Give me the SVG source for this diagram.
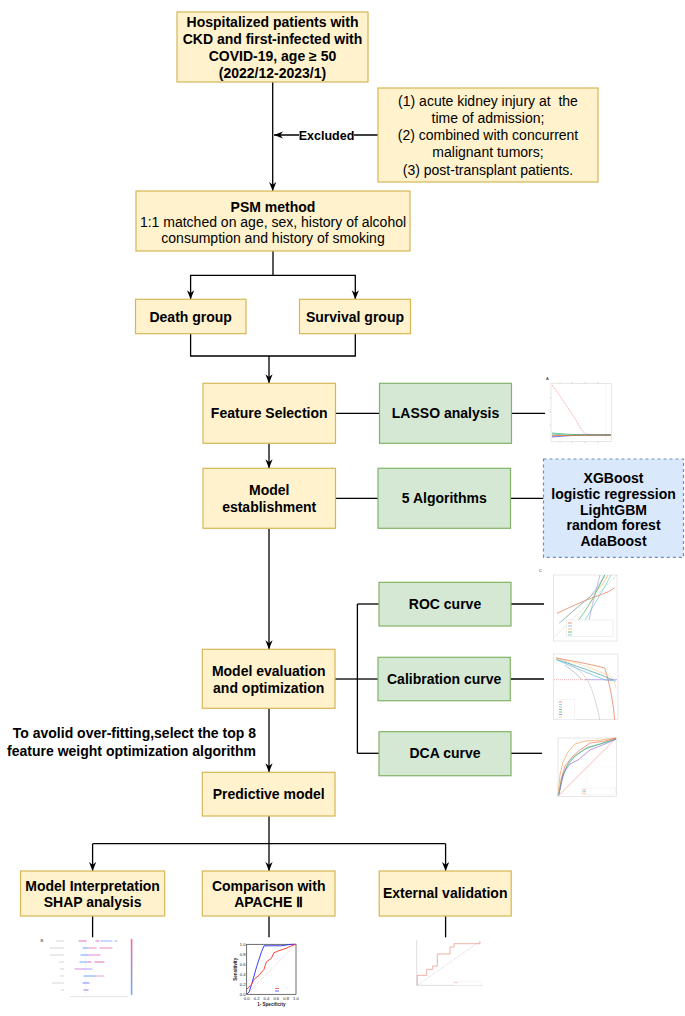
<svg xmlns="http://www.w3.org/2000/svg" width="685" height="1016" viewBox="0 0 685 1016">
<defs>
<style>
.y{fill:#FFF2CC;stroke:#D6B656;stroke-width:1.2}
.g{fill:#D5E8D4;stroke:#82B366;stroke-width:1.2}
.bl{fill:#DAE8FC;stroke:#6C8EBF;stroke-width:1.2;stroke-dasharray:3 3}
.t{font-family:"Liberation Sans",Arial,sans-serif;font-size:14px;font-weight:bold;fill:#000;text-anchor:middle}
.r{font-family:"Liberation Sans",Arial,sans-serif;font-size:14px;fill:#000;text-anchor:middle}
.c{fill:none;stroke:#000;stroke-width:1.3}
.fr{fill:#fff;stroke:#cfcfcf;stroke-width:0.5}
.tn{fill:none;stroke-width:0.7}
.tiny{font-family:"Liberation Sans",Arial,sans-serif;font-size:4px;fill:#222}
</style>
<marker id="ar" viewBox="0 0 10 10" refX="10" refY="5" markerWidth="9" markerHeight="9" markerUnits="userSpaceOnUse" orient="auto">
<path d="M0,1 L10,5 L0,9 L3,5 z" fill="#000"/>
</marker>
<linearGradient id="shapbar" x1="0" y1="0" x2="0" y2="1">
<stop offset="0" stop-color="#ff5fa0"/>
<stop offset="1" stop-color="#5fb4ff"/>
</linearGradient>
</defs>

<g id="connectors">
<path class="c" d="M272.7,82 V191" marker-end="url(#ar)"/>
<path class="c" d="M378,135 H274" marker-end="url(#ar)"/>
<path class="c" d="M273,251 V275.3 H190.6 V299.3" marker-end="url(#ar)"/>
<path class="c" d="M273,275.3 H355.3 V299.3" marker-end="url(#ar)"/>
<path class="c" d="M190.6,333.7 V356 H355.3 V333.7"/>
<path class="c" d="M269,356 V383.3" marker-end="url(#ar)"/>
<path class="c" d="M269,443.3 V468.3" marker-end="url(#ar)"/>
<path class="c" d="M335.5,413.3 H379.5"/>
<path class="c" d="M511.5,413.3 H545"/>
<path class="c" d="M335.5,498.3 H378"/>
<path class="c" d="M510.5,498.3 H543.5"/>
<path class="c" d="M269,528.3 V649.3" marker-end="url(#ar)"/>
<path class="c" d="M335,679 H357.4"/>
<path class="c" d="M357.4,604 V753.3"/>
<path class="c" d="M357.4,604 H379"/>
<path class="c" d="M357.4,679 H378"/>
<path class="c" d="M357.4,753.3 H379"/>
<path class="c" d="M511,604 H544"/>
<path class="c" d="M510.3,679 H544"/>
<path class="c" d="M511,753.3 H542"/>
<path class="c" d="M269,708.3 V772.3" marker-end="url(#ar)"/>
<path class="c" d="M269,816 V871" marker-end="url(#ar)"/>
<path class="c" d="M92.6,843.7 H445.6"/>
<path class="c" d="M92.6,843.7 V871" marker-end="url(#ar)"/>
<path class="c" d="M445.6,843.7 V871" marker-end="url(#ar)"/>
<path class="c" d="M92.6,916 V937.3"/>
<path class="c" d="M269,916 V937.3"/>
<path class="c" d="M445.6,916 V937.3"/>
<rect x="299" y="127" width="55" height="16" fill="#fff"/>
<text x="326.5" y="139.5" class="t" style="font-size:12.5px">Excluded</text>
</g>

<g id="n-patients">
<rect class="y" x="177" y="12" width="191" height="70"/>
<text class="t" x="272.5" y="27">Hospitalized patients with</text>
<text class="t" x="272.5" y="44">CKD and first-infected with</text>
<text class="t" x="272.5" y="61">COVID-19, age ≥ 50</text>
<text class="t" x="272.5" y="78">(2022/12-2023/1)</text>
</g>

<g id="n-exclusion">
<rect class="y" x="378" y="88" width="220" height="94"/>
<text class="r" x="488" y="105.8" xml:space="preserve">(1) acute kidney injury at  the</text>
<text class="r" x="488" y="123">time of admission;</text>
<text class="r" x="488" y="140.2">(2) combined with concurrent</text>
<text class="r" x="488" y="157.4">malignant tumors;</text>
<text class="r" x="488" y="174.6">(3) post-transplant patients.</text>
</g>

<g id="n-psm">
<rect class="y" x="136" y="191" width="274" height="60"/>
<text class="t" x="273" y="211.7">PSM method</text>
<text class="r" x="273" y="226.7">1:1 matched on age, sex, history of alcohol</text>
<text class="r" x="273" y="243.3">consumption and history of smoking</text>
</g>

<g id="n-death">
<rect class="y" x="135.5" y="299.3" width="110.5" height="34.4"/>
<text class="t" x="190.7" y="321.5">Death group</text>
</g>

<g id="n-survival">
<rect class="y" x="299.5" y="299.3" width="111" height="34.4"/>
<text class="t" x="355" y="321.5">Survival group</text>
</g>

<g id="n-feature">
<rect class="y" x="203" y="383.3" width="132.5" height="60"/>
<text class="t" x="269.2" y="418">Feature Selection</text>
</g>

<g id="n-lasso">
<rect class="g" x="379.5" y="383.3" width="132" height="60"/>
<text class="t" x="445.5" y="418">LASSO analysis</text>
</g>

<g id="n-lasso-plot">
<rect class="fr" x="551" y="383.3" width="60.3" height="58.4"/>
<line x1="606" y1="384" x2="606" y2="441" stroke="#e6e6e6" stroke-width="0.5"/>
<g stroke="#aaa" stroke-width="0.4">
<line x1="560" y1="383.3" x2="560" y2="381.8"/><line x1="572" y1="383.3" x2="572" y2="381.8"/><line x1="585" y1="383.3" x2="585" y2="381.8"/><line x1="598" y1="383.3" x2="598" y2="381.8"/>
<line x1="560" y1="441.7" x2="560" y2="443.2"/><line x1="572" y1="441.7" x2="572" y2="443.2"/><line x1="585" y1="441.7" x2="585" y2="443.2"/><line x1="598" y1="441.7" x2="598" y2="443.2"/>
<line x1="551" y1="398" x2="549.5" y2="398"/><line x1="551" y1="412" x2="549.5" y2="412"/><line x1="551" y1="425" x2="549.5" y2="425"/>
</g>
<text class="tiny" x="546" y="380">A</text>
<path class="tn" stroke="#f08080" stroke-dasharray="1.2 0.8" d="M552,385 L556,390 L566,405 L576,420 L581,429 Q584,434 590,434.5 L611,434.8"/>
<path class="tn" stroke="#3cb371" d="M552,433 Q565,434 575,434.6 L611,434.9"/>
<path class="tn" stroke="#4169e1" d="M552,437 Q565,436 575,435.3 L611,435.1"/>
<path class="tn" stroke="#8a2be2" d="M552,436 Q566,435.6 580,435.2 L611,435"/>
<path class="tn" stroke="#20b2aa" d="M552,434 Q565,435.5 578,435 L611,435"/>
<path class="tn" stroke="#ff8c00" d="M552,435.5 L611,435"/>
</g>

<g id="n-model-est">
<rect class="y" x="203" y="468.3" width="132.5" height="60"/>
<text class="t" x="269.2" y="495">Model</text>
<text class="t" x="269.2" y="512.3">establishment</text>
</g>

<g id="n-algorithms">
<rect class="g" x="378" y="468.3" width="132.5" height="60"/>
<text class="t" x="444.3" y="503.3">5 Algorithms</text>
</g>

<g id="n-algo-list">
<rect class="bl" x="543.5" y="459" width="140" height="98.3"/>
<text class="t" x="613.5" y="483">XGBoost</text>
<text class="t" x="613.5" y="498.8">logistic regression</text>
<text class="t" x="613.5" y="514.6">LightGBM</text>
<text class="t" x="613.5" y="530.4">random forest</text>
<text class="t" x="613.5" y="546.2">AdaBoost</text>
</g>

<g id="n-model-eval">
<rect class="y" x="202.3" y="649.3" width="132.7" height="59"/>
<text class="t" x="268.7" y="676">Model evaluation</text>
<text class="t" x="268.7" y="692.7">and optimization</text>
</g>

<g id="n-roc">
<rect class="g" x="379" y="582.3" width="132" height="43.7"/>
<text class="t" x="445" y="609">ROC curve</text>
</g>

<g id="n-roc-plot">
<rect class="fr" x="553.7" y="575" width="63.3" height="66"/>
<text class="tiny" x="539" y="572">C</text>
<path class="tn" stroke="#bbb" stroke-dasharray="1 1" d="M554.7,636.7 L617,575"/>
<path class="tn" stroke="#e8734a" d="M557,613.3 Q585,600 600,595 Q610,592 614.7,587.7"/>
<path class="tn" stroke="#f5b060" d="M561.3,621.7 Q585,600 596,592 Q604,584 608,575"/>
<path class="tn" stroke="#6fb6e0" d="M559,623.3 Q580,605 590,597 Q600,585 604.7,575"/>
<path class="tn" stroke="#4caf50" d="M571.3,630 Q585,612 592,600 Q600,585 604.7,575"/>
<path class="tn" stroke="#5fcfc0" d="M578,632 Q590,612 598,598 Q606,585 611,575"/>
<path class="tn" stroke="#b39ddb" d="M588,625 Q592,605 596,590 L600,575"/>
<rect x="566.3" y="620" width="46.7" height="16.7" fill="#fff" stroke="#ddd" stroke-width="0.4"/>
<g stroke-width="0.8">
<line x1="568" y1="623" x2="572" y2="623" stroke="#e8734a"/>
<line x1="568" y1="626" x2="572" y2="626" stroke="#6fb6e0"/>
<line x1="568" y1="629" x2="572" y2="629" stroke="#f5b060"/>
<line x1="568" y1="632" x2="572" y2="632" stroke="#4caf50"/>
<line x1="568" y1="635" x2="572" y2="635" stroke="#5fcfc0"/>
</g>
</g>

<g id="n-calibration">
<rect class="g" x="378" y="657.3" width="132.3" height="43.4"/>
<text class="t" x="444.2" y="684">Calibration curve</text>
</g>

<g id="n-calib-plot">
<rect class="fr" x="553.7" y="654" width="64.3" height="65.7"/>
<line x1="554" y1="679.7" x2="585" y2="679.7" stroke="#f08080" stroke-width="0.6" stroke-dasharray="1 1"/>
<line x1="585" y1="679.7" x2="617" y2="679.7" stroke="#9370db" stroke-width="0.6"/>
<path class="tn" stroke="#999" stroke-dasharray="1 0.8" d="M556.3,658 Q580,665 590,685 Q596,700 599.7,719.7"/>
<path class="tn" stroke="#e8734a" d="M556.3,658 Q590,664 604.7,668 Q612,690 614.7,719.7"/>
<path class="tn" stroke="#f5c060" stroke-dasharray="1.5 0.8" d="M556.3,658 Q590,666 613,678 L616,688"/>
<path class="tn" stroke="#3aa0a0" d="M556.3,659.5 Q590,670 613,680"/>
<path class="tn" stroke="#6fb6e0" d="M557,660 Q585,672 605,680 L616,681"/>
<path class="tn" stroke="#aaa" d="M565,665 Q575,672 582,679.7"/>
<rect x="558" y="699.7" width="16.7" height="20" fill="#fff" stroke="#ddd" stroke-width="0.3"/>
<g stroke-width="0.7">
<line x1="559" y1="702" x2="562" y2="702" stroke="#e8734a"/>
<line x1="559" y1="704.5" x2="562" y2="704.5" stroke="#6fb6e0"/>
<line x1="559" y1="707" x2="562" y2="707" stroke="#999"/>
<line x1="559" y1="709.5" x2="562" y2="709.5" stroke="#3aa0a0"/>
<line x1="559" y1="712" x2="562" y2="712" stroke="#4caf50"/>
<line x1="559" y1="714.5" x2="562" y2="714.5" stroke="#9370db"/>
<line x1="559" y1="717" x2="562" y2="717" stroke="#f5c060"/>
</g>
</g>

<g id="n-dca">
<rect class="g" x="379" y="731.7" width="132" height="44"/>
<text class="t" x="445" y="758.3">DCA curve</text>
</g>

<g id="n-dca-plot">
<rect class="fr" x="558" y="738" width="58.3" height="58.3"/>
<line x1="558" y1="767" x2="616" y2="767" stroke="#eee" stroke-width="0.4"/>
<line x1="587" y1="738" x2="587" y2="796" stroke="#eee" stroke-width="0.4"/>
<path class="tn" stroke="#f4a0a0" d="M558,796.3 L616.3,738"/>
<path class="tn" stroke="#f5a050" d="M558,796 L560,775 L563,762 L568,752 L575,744 L585,741 L600,740 L616,738"/>
<path class="tn" stroke="#e8734a" d="M559,794 L561,780 L565,766 L572,757 L580,750 L590,743 L605,741 L616,738"/>
<path class="tn" stroke="#6fb6e0" d="M558,796 L561,784 L565,770 L570,760 L578,754 L588,747 L600,744 L616,739"/>
<path class="tn" stroke="#4caf50" d="M559,795 L562,778 L567,766 L575,756 L585,749 L597,745 L616,739"/>
<path class="tn" stroke="#9370db" d="M560,790 L563,774 L570,764 L578,760 L590,750 L605,744 L616,739"/>
<rect x="581.3" y="788" width="34" height="6.7" fill="#fff" stroke="#ddd" stroke-width="0.3"/>
<g stroke-width="0.6">
<line x1="582.5" y1="789.8" x2="586" y2="789.8" stroke="#e8734a"/>
<line x1="582.5" y1="791.5" x2="586" y2="791.5" stroke="#6fb6e0"/>
<line x1="582.5" y1="793.2" x2="586" y2="793.2" stroke="#f5a050"/>
</g>
</g>

<g id="n-predictive">
<rect class="y" x="202.3" y="772.3" width="132.7" height="43.7"/>
<text class="t" x="268.7" y="799.3">Predictive model</text>
</g>

<text class="t" x="256" y="738.3" style="text-anchor:end">To avolid over-fitting,select the top 8</text>
<text class="t" x="256" y="756" style="text-anchor:end">feature weight optimization algorithm</text>

<g id="n-shap">
<rect class="y" x="20.5" y="871" width="144.2" height="45"/>
<text class="t" x="92.6" y="891">Model Interpretation</text>
<text class="t" x="92.6" y="907.3">SHAP analysis</text>
</g>

<g id="n-shap-plot">
<text class="tiny" x="40.5" y="942">B</text>
<line x1="85.7" y1="939" x2="85.7" y2="994" stroke="#e0e0e0" stroke-width="0.4"/>
<line x1="70" y1="996.7" x2="128" y2="996.7" stroke="#bbb" stroke-width="0.4"/>
<rect x="130.8" y="939" width="1.6" height="56" fill="url(#shapbar)"/>
<g stroke="#ccc" stroke-width="0.8">
<line x1="56" y1="941" x2="64" y2="941"/>
<line x1="50" y1="948" x2="64" y2="948"/>
<line x1="50" y1="955" x2="64" y2="955"/>
<line x1="59" y1="962" x2="64" y2="962"/>
<line x1="60" y1="969" x2="64" y2="969"/>
<line x1="60" y1="976" x2="64" y2="976"/>
<line x1="52" y1="983" x2="64" y2="983"/>
<line x1="61" y1="990" x2="64" y2="990"/>
</g>
<g stroke-width="1.2" stroke-linecap="round">
<path d="M79,941 H86 M96,941 H99" stroke="#e86fc0"/>
<path d="M101,941 H112 M115,941 H117" stroke="#8fb8ff"/>
<path d="M83,948 H88" stroke="#6da6ff"/>
<path d="M89,948 H96 M100,948 H112" stroke="#f08ac0"/>
<path d="M81,955 H88" stroke="#6da6ff"/>
<path d="M88,955 H100" stroke="#e88ad0"/>
<path d="M80,962 H87" stroke="#6da6ff"/>
<path d="M88,962 H91 M95,962 H104" stroke="#e070c0"/>
<path d="M75,969 H84" stroke="#d890e0"/>
<path d="M84,969 H92" stroke="#b0a0ff"/>
<path d="M84,976 H96" stroke="#6da6ff"/>
<path d="M97,976 H104" stroke="#f0a0d0"/>
<path d="M83,983 H89" stroke="#8080ff"/>
<path d="M84,990 H88" stroke="#a070e0"/>
</g>
</g>

<g id="n-apache">
<rect class="y" x="202.3" y="871" width="132.7" height="45"/>
<text class="t" x="268.7" y="891">Comparison with</text>
<text class="t" x="268.7" y="907.3">APACHE Ⅱ</text>
</g>

<g id="n-apache-plot">
<rect x="246.7" y="944.3" width="49.3" height="50" fill="#fff" stroke="#333" stroke-width="0.7"/>
<path d="M246.7,994.3 L296,944.3" stroke="#f4b0b0" stroke-width="0.6" stroke-dasharray="1 0.8" fill="none"/>
<path fill="none" stroke="#3b3bff" stroke-width="1" d="M246.7,994.3 L249.2,991.8 L251.6,984.3 L256.6,966.8 L261.5,951.8 L264,945.8 L281.2,945.8 L291.1,944.3 L296,944.3"/>
<path fill="none" stroke="#ff4040" stroke-width="1" d="M246.7,989.3 L249.2,986.8 L251.6,984.3 L254.1,979.3 L259,975.3 L264,969.3 L266.4,961.8 L271.4,958.3 L273.8,952.8 L278.7,950.8 L286.2,948.3 L291.1,945.8 L296,944.3"/>
<g stroke-width="0.8">
<line x1="275" y1="988.5" x2="279" y2="988.5" stroke="#ff4040"/>
<line x1="275" y1="991" x2="279" y2="991" stroke="#3b3bff"/>
</g>
<g class="tiny" style="font-size:4.2px;text-anchor:end">
<text x="245.5" y="945.8">1.0</text>
<text x="245.5" y="955.8">0.8</text>
<text x="245.5" y="965.8">0.6</text>
<text x="245.5" y="975.8">0.4</text>
<text x="245.5" y="985.8">0.2</text>
<text x="245.5" y="995.8">0.0</text>
</g>
<g class="tiny" style="font-size:4.2px;text-anchor:middle">
<text x="246.7" y="999.5">0.0</text>
<text x="256.6" y="999.5">0.2</text>
<text x="266.4" y="999.5">0.4</text>
<text x="276.3" y="999.5">0.6</text>
<text x="286.1" y="999.5">0.8</text>
<text x="296" y="999.5">1.0</text>
</g>
<text class="tiny" style="font-size:4.6px;font-weight:bold;text-anchor:middle" x="271.3" y="1006">1- Specificity</text>
<text class="tiny" style="font-size:4.6px;font-weight:bold;text-anchor:middle" transform="translate(237,969.3) rotate(-90)">Sensitivity</text>
</g>

<g id="n-external">
<rect class="y" x="379.2" y="871" width="132" height="45"/>
<text class="t" x="445.2" y="898.3">External validation</text>
</g>

<g id="n-external-plot">
<line x1="416.7" y1="940.3" x2="416.7" y2="985.3" stroke="#bbb" stroke-width="0.5"/>
<line x1="416.7" y1="985.3" x2="482.3" y2="985.3" stroke="#bbb" stroke-width="0.5"/>
<path d="M417.3,985.3 L480,941.3" stroke="#aaa" stroke-width="0.5" stroke-dasharray="0.8 0.8" fill="none"/>
<path fill="none" stroke="#e8a090" stroke-width="0.8" d="M417.3,985.3 V975.3 H426.7 V969.3 H432.7 V966 H437.3 V954 H450 V947 H454 V943.7 H480 V941.3"/>
<rect x="453.3" y="981.3" width="28.3" height="4" fill="#fff" stroke="#e5e5e5" stroke-width="0.3"/>
<line x1="454.5" y1="982.5" x2="457.5" y2="982.5" stroke="#e8a090" stroke-width="0.6"/>
</g>
</svg>
